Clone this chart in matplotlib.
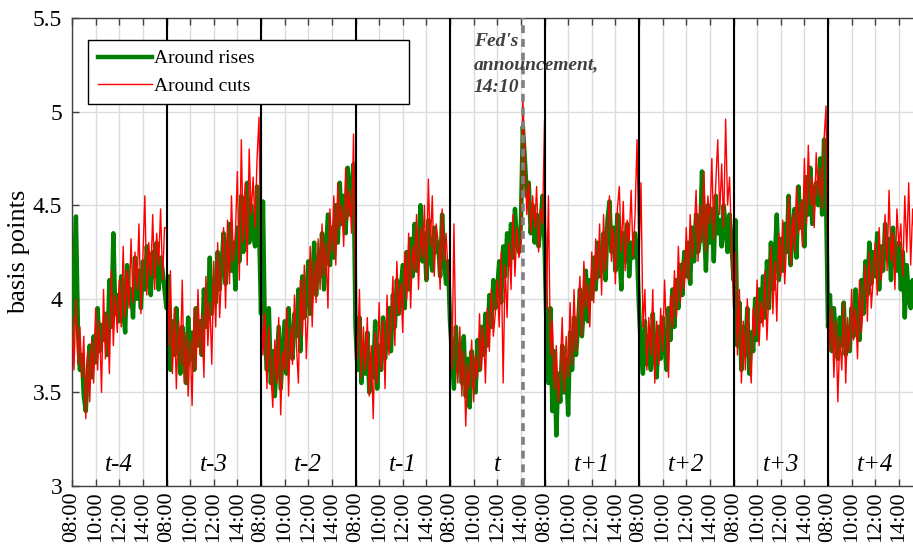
import numpy as np
import matplotlib
matplotlib.use("Agg")
import matplotlib.pyplot as plt

# 10-minute averages, 08:00-15:50 each day, days t-4 ... t+4
day_labels = ["t-4", "t-3", "t-2", "t-1", "t", "t+1", "t+2", "t+3", "t+4"]
tick_labels = ["08:00", "10:00", "12:00", "14:00"]
fed_hour = 14 + 10 / 60.0   # announcement 14:10 on day t
fed_day = 4

rises = [
    # t-4
    3.75, 4.12, 4.44, 3.85, 3.62, 3.70, 3.48, 3.40, 3.62, 3.75, 3.58, 3.80,
    3.66, 3.95, 3.72, 3.86, 3.78, 3.92, 3.70, 4.10, 3.85, 4.35, 3.92, 4.02,
    3.88, 4.12, 3.95, 3.82, 4.18, 3.98, 4.05, 3.90, 4.22, 4.00, 4.15, 3.95,
    4.20, 4.05, 4.28, 4.10, 4.02, 4.25, 4.12, 4.30, 4.05, 4.22, 4.15, 4.05,
    # t-3
    3.95, 4.12, 3.62, 3.88, 3.70, 3.95, 3.78, 3.60, 3.85, 3.72, 3.55, 3.90,
    3.68, 3.82, 3.62, 3.95, 3.75, 3.88, 3.70, 4.05, 3.85, 3.95, 4.22, 3.92,
    4.10, 3.98, 4.25, 4.05, 4.18, 4.35, 4.08, 4.22, 4.40, 4.15, 4.30, 4.05,
    4.38, 4.20, 4.55, 4.25, 4.45, 4.62, 4.30, 4.50, 4.35, 4.28, 4.60, 4.40,
    # t-2
    3.92, 4.52, 3.80, 3.62, 3.95, 3.55, 3.72, 3.48, 3.66, 3.85, 3.52, 3.70,
    3.88, 3.60, 3.95, 3.75, 3.68, 3.92, 3.80, 4.05, 3.72, 4.12, 3.90, 4.00,
    4.20, 3.92, 4.08, 4.30, 4.02, 4.22, 4.12, 4.35, 4.05, 4.25, 4.45, 4.18,
    4.38, 4.22, 4.50, 4.30, 4.62, 4.40, 4.55, 4.35, 4.70, 4.45, 4.60, 4.72,
    # t-1
    3.85, 3.62, 3.90, 3.55, 3.75, 3.60, 3.82, 3.50, 3.70, 3.58, 3.88, 3.52,
    3.75, 3.62, 3.90, 3.68, 3.80, 3.95, 3.72, 4.02, 3.85, 4.10, 3.92, 4.05,
    4.18, 3.95, 4.25, 4.05, 4.32, 4.12, 4.40, 4.15, 4.28, 4.50, 4.20, 4.35,
    4.10, 4.42, 4.22, 4.15, 4.38, 4.25, 4.30, 4.12, 4.45, 4.22, 4.08, 4.20,
    # t
    3.88, 3.70, 3.52, 3.85, 3.62, 3.75, 3.55, 3.80, 3.48, 3.68, 3.42, 3.72,
    3.60, 3.50, 3.78, 3.62, 3.85, 3.70, 3.92, 3.75, 4.02, 3.85, 4.10, 3.95,
    4.05, 4.20, 3.98, 4.28, 4.12, 4.35, 4.18, 4.40, 4.22, 4.48, 4.30, 4.25,
    4.40, 4.92, 4.75, 4.55, 4.62, 4.35, 4.50, 4.30, 4.45, 4.28, 4.40, 4.55,
    # t+1
    4.30, 3.85, 3.55, 3.95, 3.40, 3.72, 3.27, 3.60, 3.45, 3.75, 3.50, 3.68,
    3.38, 3.82, 3.62, 3.90, 3.70, 3.85, 4.05, 3.80, 3.98, 4.15, 3.88, 4.10,
    4.00, 4.22, 4.05, 4.30, 4.12, 4.20, 4.35, 4.10, 4.42, 4.52, 4.25, 4.38,
    4.15, 4.45, 4.28, 4.05, 4.35, 4.20, 4.40, 4.12, 4.30, 4.22, 4.35, 4.25,
    # t+2
    3.95, 3.72, 3.60, 3.88, 3.65, 3.80, 3.62, 3.92, 3.70, 3.58, 3.85, 3.68,
    3.90, 3.75, 3.62, 3.95, 3.78, 4.05, 3.85, 4.10, 3.95, 4.18, 4.02, 4.25,
    4.12, 4.30, 4.08, 4.38, 4.20, 4.45, 4.25, 4.32, 4.68, 4.40, 4.15, 4.50,
    4.30, 4.48, 4.20, 4.55, 4.35, 4.42, 4.28, 4.50, 4.38, 4.25, 4.45, 4.30,
    # t+3
    4.10, 4.42, 3.75, 3.98, 3.62, 3.85, 3.70, 3.95, 3.60, 3.82, 3.72, 4.00,
    3.78, 4.05, 3.88, 4.12, 3.90, 4.20, 3.95, 4.30, 4.05, 4.22, 4.45, 4.10,
    4.32, 4.15, 4.40, 4.25, 4.55, 4.18, 4.35, 4.48, 4.22, 4.60, 4.38, 4.52,
    4.28, 4.65, 4.45, 4.70, 4.40, 4.58, 4.62, 4.50, 4.75, 4.45, 4.85, 4.55,
    # t+4
    3.85, 4.02, 3.72, 3.95, 3.80, 3.68, 3.90, 3.75, 3.98, 3.70, 3.85, 3.72,
    3.95, 3.80, 4.05, 3.88, 3.78, 4.10, 3.92, 4.20, 4.02, 4.30, 4.08, 4.25,
    4.12, 4.35, 4.05, 4.28, 4.15, 4.40, 4.22, 4.32, 4.10, 4.38, 4.20, 4.15,
    4.30, 4.05, 4.25, 3.90, 4.18, 4.00, 3.95, 4.10, 3.92, 4.05, 3.98, 4.02,
]

cuts = [
    # t-4
    3.90, 3.62, 4.00, 3.65, 3.85, 3.58, 3.80, 3.36, 3.72, 3.45, 3.78, 3.55,
    3.95, 3.62, 3.88, 3.50, 4.05, 3.68, 3.92, 3.60, 4.15, 3.75, 4.02, 3.82,
    4.10, 3.85, 4.28, 3.90, 4.15, 3.95, 4.32, 3.98, 4.25, 4.05, 4.40, 3.92,
    4.22, 4.55, 4.02, 4.30, 4.12, 4.45, 4.05, 4.35, 4.18, 4.48, 4.10, 4.38,
    # t-3
    4.38, 3.75, 4.15, 3.60, 3.95, 3.52, 3.88, 3.65, 4.10, 3.55, 3.82, 3.48,
    3.78, 3.43, 3.95, 3.62, 4.05, 3.70, 3.92, 3.58, 4.12, 3.75, 3.98, 3.65,
    4.20, 3.85, 4.30, 3.90, 4.15, 4.38, 3.95, 4.42, 4.08, 4.55, 4.20, 4.35,
    4.68, 4.10, 4.85, 4.30, 4.62, 4.18, 4.80, 4.45, 4.65, 4.38, 4.75, 4.97,
    # t-2
    4.05, 3.70, 3.92, 3.52, 3.85, 3.60, 3.42, 3.78, 3.55, 3.90, 3.38, 3.72,
    3.62, 3.95, 3.48, 3.85, 3.65, 4.02, 3.75, 3.55, 4.10, 3.80, 4.18, 3.68,
    3.95, 4.28, 3.85, 4.20, 3.98, 4.32, 4.05, 4.40, 4.12, 4.30, 3.95, 4.48,
    4.25, 4.55, 4.18, 4.62, 4.38, 4.50, 4.28, 4.70, 4.42, 4.58, 4.35, 4.88,
    # t-1
    3.95, 3.68, 4.05, 3.58, 3.85, 3.62, 3.90, 3.48, 3.75, 3.36, 3.82, 3.55,
    3.98, 3.62, 3.88, 3.52, 4.02, 3.70, 3.85, 4.12, 3.75, 4.20, 3.92, 4.08,
    3.82, 4.25, 4.00, 4.35, 3.95, 4.28, 4.15, 4.45, 4.05, 4.38, 4.22, 4.50,
    4.10, 4.64, 4.28, 4.55, 4.12, 4.40, 4.30, 4.05, 4.48, 4.20, 4.35, 4.15,
    # t
    4.05, 3.62, 4.40, 3.70, 3.55, 3.85, 3.48, 3.72, 3.32, 3.65, 3.52, 3.78,
    3.45, 3.70, 3.58, 3.92, 3.62, 3.85, 3.55, 3.95, 3.72, 4.05, 3.80, 3.92,
    4.10, 3.85, 4.25, 3.55, 4.18, 3.90, 4.30, 4.05, 4.45, 4.12, 4.38, 4.22,
    4.30, 5.07, 4.80, 4.45, 4.62, 4.35, 4.55, 4.38, 4.60, 4.25, 4.48, 4.40,
    # t+1
    4.95, 3.95, 4.55, 3.70, 3.88, 3.52, 3.75, 3.45, 3.62, 3.90, 3.50, 3.80,
    3.58, 3.98, 3.65, 4.05, 3.72, 3.92, 4.12, 3.80, 4.20, 3.95, 4.08, 3.85,
    4.25, 3.98, 4.32, 4.10, 4.40, 4.02, 4.45, 4.15, 4.35, 4.55, 4.20, 4.38,
    4.08, 4.48, 4.60, 4.25, 4.52, 4.15, 4.42, 4.30, 4.58, 4.22, 4.45, 4.85,
    # t+2
    4.20, 4.62, 3.85, 4.05, 3.62, 3.90, 3.70, 4.05, 3.55, 3.88, 3.65, 3.95,
    3.72, 4.10, 3.80, 3.58, 4.02, 3.85, 4.15, 3.90, 4.28, 3.98, 4.20, 4.05,
    4.38, 4.10, 4.45, 4.22, 4.35, 4.58, 4.20, 4.50, 4.30, 4.68, 4.25, 4.55,
    4.40, 4.75, 4.32, 4.62, 4.85, 4.45, 4.72, 4.38, 4.96, 4.50, 4.65, 4.30,
    # t+3
    3.95, 4.25, 3.70, 4.05, 3.55, 3.88, 3.62, 4.00, 3.72, 3.55, 3.95, 3.80,
    4.10, 3.75, 3.98, 3.85, 4.15, 3.78, 4.05, 4.28, 3.92, 4.20, 3.88, 4.35,
    4.12, 4.42, 4.08, 4.30, 4.55, 4.18, 4.45, 4.25, 4.60, 4.35, 4.52, 4.28,
    4.75, 4.40, 4.82, 4.50, 4.65, 4.38, 4.78, 4.55, 4.70, 4.48, 4.85, 5.03,
    # t+4
    4.05, 3.72, 3.95, 3.58, 3.88, 3.45, 3.80, 3.62, 3.98, 3.55, 3.90, 3.72,
    4.05, 3.78, 3.95, 3.68, 4.10, 3.82, 4.00, 4.18, 3.88, 4.25, 3.95, 4.12,
    4.30, 4.02, 4.38, 4.10, 4.22, 4.45, 4.15, 4.58, 4.20, 4.35, 4.05, 4.48,
    4.28, 4.40, 4.12, 4.55, 4.25, 4.62, 4.18, 4.48, 4.30, 4.42, 4.35, 4.20,
]

n_days = len(day_labels)
per_day = len(rises) // n_days
# x axis in hours, each trading day 08:00-16:00 put back to back
x = np.arange(len(rises)) * (8.0 / per_day)

plt.rcParams['font.family'] = ['Liberation Serif', 'DejaVu Serif']

fig = plt.figure(figsize=(9.13, 5.48), dpi=100)
ax = fig.add_axes([72 / 913, 62 / 548, 850.5 / 913, 468 / 548])

ax.plot(x, rises, color='#007f00', lw=3.2, label='Around rises', zorder=3)
ax.plot(x, cuts, color='#ff0000', lw=1.0, label='Around cuts', zorder=4)

# day separators
for d in range(1, n_days):
    ax.axvline(d * 8, color='black', lw=1.5, zorder=5)

# Fed announcement
fx = fed_day * 8 + (fed_hour - 8)
ax.axvline(fx, color='#808080', lw=2.6, ls=(0, (2.2, 1.6)), zorder=6)
ax.text(fx - 4.15, 5.42, "Fed's\nannouncement,\n14:10", fontsize=14, fontweight='bold',
        fontstyle='italic', color='#404040', ha='left', va='top', linespacing=1.45, zorder=7)

for d, lab in enumerate(day_labels):
    ax.text(d * 8 + 4, 3.11, lab, fontsize=18, fontstyle='italic', ha='center',
            va='center', zorder=7)

ax.set_xlim(0, n_days * 8)
ax.set_ylim(3, 5.5)
xt = np.arange(0, n_days * 8, 2)
ax.set_xticks(xt)
ax.set_xticklabels([tick_labels[i % 4] for i in range(len(xt))], rotation=90)
ax.set_yticks([3, 3.5, 4, 4.5, 5, 5.5])
ax.set_yticklabels(['3', '3.5', '4', '4.5', '5', '5.5'])
ax.tick_params(direction='in', length=5, width=1, top=True, right=True,
               color='#404040')
ax.tick_params(axis='x', labelsize=16, pad=4)
ax.tick_params(axis='y', labelsize=17, pad=7)
ax.grid(True, color='#dcdcdc', lw=1.0, zorder=0)
ax.set_axisbelow(True)
for s in ax.spines.values():
    s.set_color('#404040')
    s.set_linewidth(1.0)

ax.set_ylabel('basis points', fontsize=19, labelpad=2)

leg = ax.legend(loc='upper left', bbox_to_anchor=(0.0188, 0.816, 0.3774, 0.137),
                mode='expand', fontsize=14, frameon=True, fancybox=False,
                framealpha=1, edgecolor='black', handlelength=2.8,
                handletextpad=0.1, borderaxespad=0, labelspacing=0.5,
                borderpad=0.5)
leg.get_frame().set_linewidth(1.0)
leg.set_zorder(10)

fig.savefig('out.png', dpi=100)
